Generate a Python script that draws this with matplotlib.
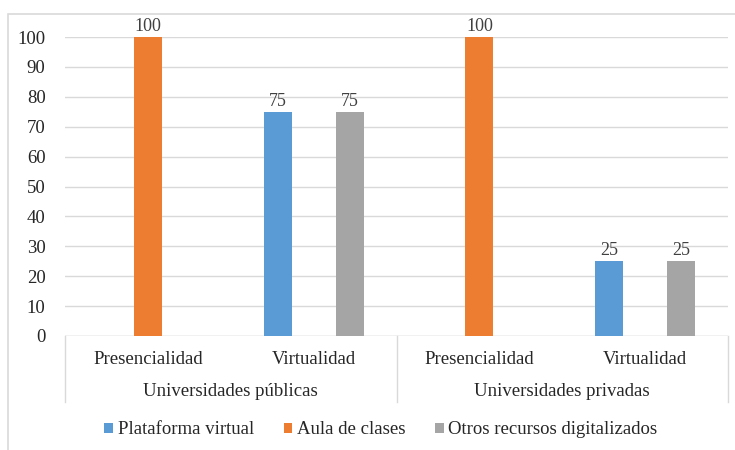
import matplotlib.pyplot as plt
import matplotlib.transforms as mtransforms
from matplotlib.patches import Patch, Rectangle
import numpy as np

plt.rcParams['font.family'] = ['Liberation Serif', 'DejaVu Serif']

# datos
grupos = ['Universidades públicas', 'Universidades privadas']
modalidades = ['Presencialidad', 'Virtualidad', 'Presencialidad', 'Virtualidad']
series = ['Plataforma virtual', 'Aula de clases', 'Otros recursos digitalizados']
plataforma = [0, 75, 0, 25]
aula = [100, 0, 100, 0]
otros = [0, 75, 0, 25]
colores = ['#5B9BD5', '#ED7D31', '#A5A5A5']

fig = plt.figure(figsize=(7.35, 4.5), dpi=100)
ax = fig.add_axes([65 / 735, 1 - 336 / 450, 663 / 735, 299 / 450])

# marco exterior del gráfico
fig.patches.append(Rectangle((8 / 735, -0.1), 1.2, 1 - 14 / 450 + 0.1, transform=fig.transFigure,
                             fill=False, edgecolor='#D9D9D9', linewidth=1.2))

x = np.arange(len(modalidades)) + 0.5
desp = 0.217
ancho = 0.169
for i, (vals, color) in enumerate(zip([plataforma, aula, otros], colores)):
    pos = x + (i - 1) * desp
    ax.bar(pos, vals, width=ancho, color=color, zorder=3)
    for px, v in zip(pos, vals):
        if v > 0:
            ax.text(px, v + 0.6, str(v), ha='center', va='bottom', fontsize=13,
                    color='#404040', clip_on=False)

ax.set_xlim(0, 4)
ax.set_ylim(0, 100)
ax.set_yticks(range(0, 101, 10))
ax.tick_params(axis='y', length=0, labelsize=13.5, labelcolor='#262626', pad=14)
ax.set_xticks([])
ax.grid(axis='y', color='#D9D9D9', linewidth=1, zorder=0)
for s in ax.spines.values():
    s.set_visible(False)
ax.axhline(0, color='#D9D9D9', linewidth=1, zorder=2)

# eje de categorías en dos niveles
trans = mtransforms.blended_transform_factory(ax.transData, ax.transAxes)
fondo = -66 / 299
for xs in [0, 2, 4]:
    ax.plot([xs, xs], [0, fondo], transform=trans, color='#D9D9D9', linewidth=1, clip_on=False)
for xi, m in zip(x, modalidades):
    ax.text(xi, -23 / 299, m, transform=trans, ha='center', va='center', fontsize=13.5,
            color='#262626')
for gi, g in enumerate(grupos):
    ax.text(gi * 2 + 1, -56 / 299, g, transform=trans, ha='center', va='center', fontsize=13.5,
            color='#262626')

handles = [Patch(facecolor=c, label=s) for c, s in zip(colores, series)]
fig.legend(handles=handles, loc='center', bbox_to_anchor=(381 / 735, 1 - 430 / 450), ncol=3,
           frameon=False, fontsize=13.5, handlelength=0.45, handleheight=0.45, handletextpad=0.25,
           columnspacing=1.6, labelcolor='#262626')

fig.savefig('out.png', dpi=100)
